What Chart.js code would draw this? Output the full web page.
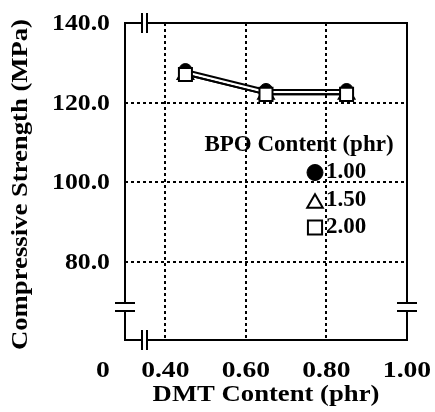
<!DOCTYPE html>
<html>
<head>
<meta charset="utf-8">
<script src="https://cdn.jsdelivr.net/npm/chart.js@4/dist/chart.umd.min.js"></script>
<style>
  html, body { margin: 0; padding: 0; background: #fff; }
  #wrap { width: 435px; height: 412px; }
  canvas { display: block; }
</style>
</head>
<body>
<div id="wrap"><canvas id="c" width="435" height="412"></canvas></div>
<script>
// ---- data ----
const dmtContent = [0.45, 0.65, 0.85];
const bpoLabels = ['1.00', '1.50', '2.00'];
const strengthBpo100 = [128.2, 123.2, 123.2];
const strengthBpo150 = [127.1, 122.1, 122.1];
const strengthBpo200 = [127.1, 122.1, 122.1];
const xTickValues = [0.245, 0.40, 0.60, 0.80, 1.00];
const xTickLabels = ['0', '0.40', '0.60', '0.80', '1.00'];
const yTickValues = [80, 100, 120, 140];
const yTickLabels = ['80.0', '100.0', '120.0', '140.0'];
const xBreak = [0.341, 0.355];
const yBreak = [69.8, 67.8];
const xTitle = 'DMT Content (phr)';
const yTitle = 'Compressive Strength (MPa)';
const legendTitle = 'BPO Content (phr)';

const FONT = "'Liberation Serif', 'Times New Roman', Times, serif";

// horizontal glyph stretch of axis texts (the original uses a wide serif)
const textStretch = {
  x: { drawTitle: { sx: 1.16, dy: 0 }, drawLabels: { sx: 1.15, dy: 0 } },
  y: { drawTitle: { sx: 1.16, dy: 3 }, drawLabels: { sx: 1.12, dy: 0 } }
};

const stretchPlugin = {
  id: 'stretch',
  beforeDraw(chart) {
    for (const id of ['x', 'y']) {
      const s = chart.scales[id];
      if (!s || s._wrappedStretch) continue;
      s._wrappedStretch = true;
      for (const fn of ['drawTitle', 'drawLabels']) {
        const orig = s[fn];
        const spec = textStretch[id][fn];
        s[fn] = function (...args) {
          const c = this.ctx;
          const protoFill = CanvasRenderingContext2D.prototype.fillText;
          c.save();
          c.translate(0, spec.dy);
          c.fillText = function (t, x, y) {
            this.save();
            this.translate(x, y);
            this.scale(spec.sx, 1);
            protoFill.call(this, t, 0, 0);
            this.restore();
          };
          try {
            return orig.apply(this, args);
          } finally {
            delete c.fillText;
            c.restore();
          }
        };
      }
    }
  }
};

const framePlugin = {
  id: 'frame',
  afterDraw(chart) {
    const { ctx, chartArea: a, scales } = chart;
    const xb = xBreak.map(v => Math.round(scales.x.getPixelForValue(v)));
    const yb = yBreak.map(v => Math.round(scales.y.getPixelForValue(v)));
    ctx.save();
    ctx.fillStyle = '#fff';
    for (const yy of [a.top, a.bottom]) ctx.fillRect(xb[0], yy - 3, xb[1] - xb[0], 6);
    for (const xx of [a.left, a.right]) ctx.fillRect(xx - 3, yb[0], 6, yb[1] - yb[0]);
    ctx.strokeStyle = '#000';
    ctx.lineWidth = 2;
    ctx.lineCap = 'butt';
    ctx.beginPath();
    for (const yy of [a.top, a.bottom]) {
      ctx.moveTo(a.left - 1, yy); ctx.lineTo(xb[0], yy);
      ctx.moveTo(xb[1], yy); ctx.lineTo(a.right + 1, yy);
    }
    for (const xx of [a.left, a.right]) {
      ctx.moveTo(xx, a.top - 1); ctx.lineTo(xx, yb[0]);
      ctx.moveTo(xx, yb[1]); ctx.lineTo(xx, a.bottom + 1);
    }
    ctx.stroke();
    const m = 10;
    ctx.beginPath();
    for (const yy of [a.top, a.bottom]) for (const xx of xb) { ctx.moveTo(xx, yy - m); ctx.lineTo(xx, yy + m); }
    for (const xx of [a.left, a.right]) for (const yy of yb) { ctx.moveTo(xx - m, yy); ctx.lineTo(xx + m, yy); }
    ctx.stroke();
    ctx.restore();
  }
};

function drawSymbol(ctx, style, x, y, r) {
  ctx.beginPath();
  if (style === 'circle') {
    ctx.arc(x, y, r, 0, Math.PI * 2);
  } else if (style === 'triangle') {
    for (let k = 0; k < 3; k++) {
      const ang = -Math.PI / 2 + k * 2 * Math.PI / 3;
      const px = x + r * Math.cos(ang), py = y + r * Math.sin(ang);
      if (k === 0) ctx.moveTo(px, py); else ctx.lineTo(px, py);
    }
    ctx.closePath();
  } else {
    const h = r * Math.SQRT1_2;
    ctx.rect(x - h, y - h, 2 * h, 2 * h);
  }
}

const legendPlugin = {
  id: 'bpoLegend',
  afterDraw(chart) {
    const { ctx, chartArea: a } = chart;
    ctx.save();
    ctx.fillStyle = '#000';
    ctx.font = 'bold 23px ' + FONT;
    ctx.textBaseline = 'middle';
    ctx.textAlign = 'center';
    ctx.fillText(legendTitle, a.right - 108, a.top + 122.5);
    ctx.textAlign = 'left';
    const legendSizes = { circle: 8, triangle: 9, rect: 10 };
    bpoLabels.forEach((lab, i) => {
      const ds = chart.data.datasets.find(d => d.label === lab);
      const yy = a.top + 149.5 + i * 27.5;
      const xx = a.right - 92;
      const st = ds.pointStyle;
      const r = legendSizes[st];
      ctx.fillStyle = ds.pointBackgroundColor;
      ctx.strokeStyle = ds.pointBorderColor;
      ctx.lineWidth = st === 'circle' ? 1 : 2;
      drawSymbol(ctx, st, xx, yy + (st === 'triangle' ? r / 4 + 1 : 0), r);
      ctx.fill();
      ctx.stroke();
      ctx.fillStyle = '#000';
      ctx.fillText(lab, a.right - 81, yy);
    });
    ctx.restore();
  }
};

function series(vals) { return dmtContent.map((x, i) => ({ x, y: vals[i] })); }

const tickFontY = { family: FONT, weight: 'bold', size: 23 };
const tickFontX = { family: FONT, weight: 'bold', size: 24 };
const titleFont = { family: FONT, weight: 'bold', size: 23 };

new Chart(document.getElementById('c'), {
  type: 'line',
  data: {
    datasets: [
      { label: bpoLabels[2], data: series(strengthBpo200), pointStyle: 'rect', pointRadius: 9.2,
        borderColor: '#000', backgroundColor: '#fff', pointBackgroundColor: '#fff', pointBorderColor: '#000',
        borderWidth: 2, pointBorderWidth: 2, order: 1 },
      { label: bpoLabels[1], data: series(strengthBpo150), pointStyle: 'triangle', pointRadius: 9,
        borderColor: '#000', backgroundColor: '#fff', pointBackgroundColor: '#fff', pointBorderColor: '#000',
        borderWidth: 2, pointBorderWidth: 2, order: 2 },
      { label: bpoLabels[0], data: series(strengthBpo100), pointStyle: 'circle', pointRadius: 6.5,
        borderColor: '#000', backgroundColor: '#000', pointBackgroundColor: '#000', pointBorderColor: '#000',
        borderWidth: 2, pointBorderWidth: 1, order: 3 }
    ]
  },
  options: {
    responsive: false,
    animation: false,
    events: [],
    layout: { padding: { left: 0, top: 23, right: 28, bottom: 0 } },
    elements: { line: { tension: 0, fill: false } },
    plugins: { legend: { display: false }, tooltip: { enabled: false } },
    scales: {
      x: {
        type: 'linear', min: 0.30, max: 1.00,
        afterBuildTicks: s => { s.ticks = xTickValues.map(v => ({ value: v })); },
        afterFit: s => { s.height = 72; s.paddingLeft = 0; s.paddingRight = 0; },
        ticks: { autoSkip: false, maxRotation: 0, minRotation: 0, padding: 16, color: '#000', font: tickFontX,
                 callback: (v, i) => xTickLabels[i] },
        grid: { color: c => (xTickValues[c.index] < 0.30 ? 'rgba(0,0,0,0)' : '#000'), lineWidth: 2, drawTicks: false },
        border: { display: false, dash: [3, 3] },
        title: { display: true, text: xTitle, color: '#000', font: titleFont, padding: { top: 0, bottom: 3 } }
      },
      y: {
        type: 'linear', min: 60.5, max: 140,
        afterBuildTicks: s => { s.ticks = yTickValues.map(v => ({ value: v })); },
        afterFit: s => { s.width = 125; s.paddingTop = 0; s.paddingBottom = 0; },
        ticks: { autoSkip: false, padding: 15, labelOffset: 1, color: '#000', font: tickFontY,
                 callback: (v, i) => yTickLabels[i] },
        grid: { color: '#000', lineWidth: 2, drawTicks: false },
        border: { display: false, dash: [3, 3] },
        title: { display: true, text: yTitle, color: '#000', font: titleFont, padding: { top: 7, bottom: 0 } }
      }
    }
  },
  plugins: [stretchPlugin, framePlugin, legendPlugin]
});
</script>
</body>
</html>
